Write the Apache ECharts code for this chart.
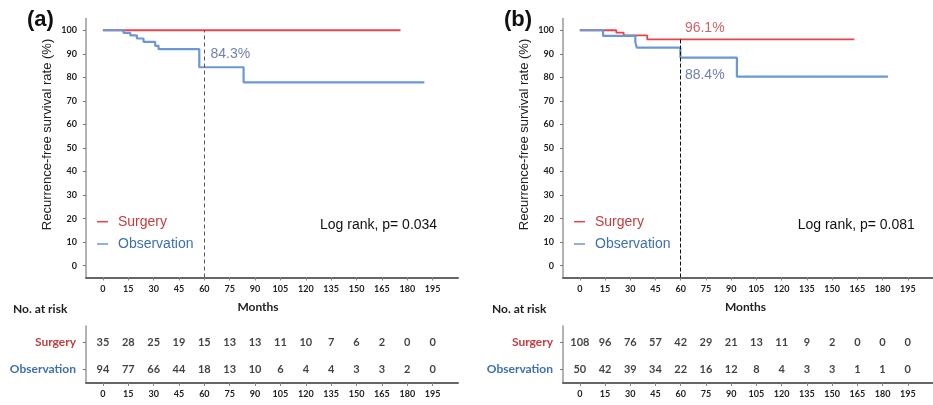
<!DOCTYPE html>
<html>
<head>
<meta charset="utf-8">
<script src="https://cdn.jsdelivr.net/npm/echarts@6/dist/echarts.min.js"></script>
<style>
  html, body { margin: 0; padding: 0; background: #fff; }
  #chart { width: 933px; height: 405px; }
</style>
</head>
<body>
<div id="chart"></div>
<script>
// Axis ticks
const monthTicks = [0, 15, 30, 45, 60, 75, 90, 105, 120, 135, 150, 165, 180, 195];
const rateTicks = [0, 10, 20, 30, 40, 50, 60, 70, 80, 90, 100];
const groupNames = ['Surgery', 'Observation'];
const yTitle = 'Recurrence-free survival rate (%)';

// Panel (a): Kaplan-Meier steps (months, survival %)
const aSurgeryTimes = [0, 176];
const aSurgerySurv = [100, 100];
const aObsTimes = [0, 12.2, 16.2, 20.1, 24.0, 30.9, 32.9, 57.0, 83.2, 190.1];
const aObsSurv = [100, 98.9, 97.8, 96.5, 95.1, 93.4, 92.0, 84.3, 77.9, 77.9];
const aLandmark = 60;
const aLandmarkObs = 84.3;
const aPValue = '0.034';
const aRiskSurgery = [35, 28, 25, 19, 15, 13, 13, 11, 10, 7, 6, 2, 0, 0];
const aRiskObs = [94, 77, 66, 44, 18, 13, 10, 6, 4, 4, 3, 3, 2, 0];

// Panel (b)
const bSurgeryTimes = [0, 21.7, 26.1, 40.1, 163.2];
const bSurgerySurv = [100, 99.0, 97.8, 96.1, 96.1];
const bObsTimes = [0, 13.8, 33.0, 33.9, 59.8, 93.4, 183.2];
const bObsSurv = [100, 97.6, 95.0, 92.6, 88.4, 80.3, 80.3];
const bLandmark = 60;
const bLandmarkSurgery = 96.1;
const bLandmarkObs = 88.4;
const bPValue = '0.081';
const bRiskSurgery = [108, 96, 76, 57, 42, 29, 21, 13, 11, 9, 2, 0, 0, 0];
const bRiskObs = [50, 42, 39, 34, 22, 16, 12, 8, 4, 3, 3, 1, 1, 0];

const RED = '#e8434a';
const BLUE = '#6b97d6';
const RED_TEXT = '#c43c40';
const BLUE_TEXT = '#3e70ad';
const PCT_BLUE = '#4d5f9e';
const TICK_FONT = 'Lato, "Liberation Sans", Arial, sans-serif';
const TEXT_FONT = '"Liberation Sans", Arial, sans-serif';

const zip = (xs, ys) => xs.map((x, i) => [x, ys[i]]);

const panels = [
  { left: 86, tag: '(a)', sTimes: aSurgeryTimes, sSurv: aSurgerySurv, oTimes: aObsTimes, oSurv: aObsSurv,
    landmark: aLandmark, landmarkTop: aSurgerySurv[0], dash: { color: '#555', type: [4, 3] },
    pct: [{ v: aLandmarkObs, color: PCT_BLUE, offset: [26, -13] }],
    p: aPValue, riskS: aRiskSurgery, riskO: aRiskObs, logX: 320, monthsX: 258, riskTitleX: 13 },
  { left: 563, tag: '(b)', sTimes: bSurgeryTimes, sSurv: bSurgerySurv, oTimes: bObsTimes, oSurv: bObsSurv,
    landmark: bLandmark, landmarkTop: bLandmarkSurgery, dash: { color: '#111', type: [4, 2] },
    pct: [{ v: bLandmarkSurgery, color: RED_TEXT, offset: [24, -11] },
          { v: bLandmarkObs, color: PCT_BLUE, offset: [24, 18] }],
    p: bPValue, riskS: bRiskSurgery, riskO: bRiskObs, logX: 797.7, monthsX: 745.5, riskTitleX: 492 }
];

const grid = [], xAxis = [], yAxis = [], series = [], graphic = [];
const MAIN_TOP = 18.5, MAIN_H = 259, RISK_TOP = 326, RISK_H = 57, PLOT_W = 372;

const axisLabelTick = {
  fontFamily: TICK_FONT, fontWeight: 'bold', fontSize: 9, color: '#222'
};

panels.forEach((pn, k) => {
  const gMain = k * 2, gRisk = k * 2 + 1;
  grid.push({ left: pn.left, top: MAIN_TOP, width: PLOT_W, height: MAIN_H });
  grid.push({ left: pn.left, top: RISK_TOP, width: PLOT_W, height: RISK_H });

  [gMain, gRisk].forEach(g => {
    xAxis.push({
      type: 'value', gridIndex: g, min: -10, max: 210,
      splitLine: { show: false },
      axisLine: { show: true, onZero: false, lineStyle: { color: '#666', width: 2 } },
      axisTick: { show: true, length: 3, customValues: monthTicks, lineStyle: { color: '#888' } },
      axisLabel: Object.assign({ margin: 7, customValues: monthTicks }, axisLabelTick)
    });
  });

  yAxis.push({
    type: 'value', gridIndex: gMain, min: -5, max: 105,
    splitLine: { show: false },
    axisLine: { show: true, onZero: false, lineStyle: { color: '#999', width: 1.5 } },
    axisTick: { show: true, length: 3, customValues: rateTicks, lineStyle: { color: '#777' } },
    axisLabel: Object.assign({ margin: 9, customValues: rateTicks }, axisLabelTick)
  });
  yAxis.push({
    type: 'value', gridIndex: gRisk, min: -0.5, max: 1.6,
    splitLine: { show: false },
    axisLine: { show: true, onZero: false, lineStyle: { color: '#999', width: 1.5 } },
    axisTick: { show: true, length: 3, customValues: [0, 1], lineStyle: { color: '#777' } },
    axisLabel: {
      margin: 10, customValues: [0, 1],
      formatter: v => (v === 1 ? '{s|' + groupNames[0] + '}' : '{o|' + groupNames[1] + '}'),
      rich: {
        s: { fontFamily: TICK_FONT, fontWeight: 'bold', fontSize: 12, color: RED_TEXT },
        o: { fontFamily: TICK_FONT, fontWeight: 'bold', fontSize: 12, color: BLUE_TEXT }
      }
    }
  });

  // Survival curves
  series.push({
    name: groupNames[0], type: 'line', step: 'end', xAxisIndex: gMain, yAxisIndex: gMain,
    data: zip(pn.sTimes, pn.sSurv), showSymbol: false, symbol: 'none',
    lineStyle: { color: RED, width: k === 0 ? 2.2 : 1.8 }, z: 3,
    markLine: {
      silent: true, symbol: 'none', label: { show: false },
      lineStyle: { color: pn.dash.color, type: pn.dash.type, width: 1 },
      data: [[{ coord: [pn.landmark, -5] }, { coord: [pn.landmark, pn.landmarkTop] }]]
    }
  });
  series.push({
    name: groupNames[1], type: 'line', step: 'end', xAxisIndex: gMain, yAxisIndex: gMain,
    data: zip(pn.oTimes, pn.oSurv), showSymbol: false, symbol: 'none',
    lineStyle: { color: BLUE, width: 2.2 }, z: 4
  });

  // Landmark percentages
  pn.pct.forEach(pc => {
    series.push({
      type: 'scatter', xAxisIndex: gMain, yAxisIndex: gMain, symbolSize: 0, silent: true,
      data: [[pn.landmark, pc.v]],
      label: {
        show: true, position: 'inside', offset: pc.offset,
        formatter: p => p.value[1].toFixed(1) + '%',
        fontFamily: TEXT_FONT, fontSize: 14, color: pc.color
      }
    });
  });

  // Numbers at risk
  const riskData = [];
  monthTicks.forEach((m, i) => {
    riskData.push([m, 1, pn.riskS[i]]);
    riskData.push([m, 0, pn.riskO[i]]);
  });
  series.push({
    type: 'scatter', xAxisIndex: gRisk, yAxisIndex: gRisk, symbolSize: 0, silent: true,
    data: riskData,
    label: {
      show: true, position: 'inside', formatter: p => String(p.value[2]),
      fontFamily: TICK_FONT, fontWeight: 'bold', fontSize: 11, color: '#111'
    }
  });

  // Panel tag, axis title, legend, log-rank text, headings
  const off = pn.left - 86;
  graphic.push(
    { type: 'text', left: 27 + off, top: 9, style: { text: pn.tag, fontFamily: TEXT_FONT, fontWeight: 'bold', fontSize: 22, fill: '#111' } },
    { type: 'text', x: 47 + off, y: 134.5, rotation: Math.PI / 2, style: { text: yTitle, fontFamily: TEXT_FONT, fontSize: 13, fill: '#222', align: 'center', verticalAlign: 'middle' } },
    { type: 'line', shape: { x1: 97 + off, y1: 221.7, x2: 108 + off, y2: 221.7 }, style: { stroke: RED, lineWidth: 1.5 } },
    { type: 'line', shape: { x1: 97 + off, y1: 244, x2: 108 + off, y2: 244 }, style: { stroke: BLUE, lineWidth: 1.5 } },
    { type: 'text', x: 118 + off, y: 221.7, style: { text: groupNames[0], fontFamily: TEXT_FONT, fontSize: 14, fill: RED_TEXT, verticalAlign: 'middle' } },
    { type: 'text', x: 118 + off, y: 244, style: { text: groupNames[1], fontFamily: TEXT_FONT, fontSize: 14, fill: BLUE_TEXT, verticalAlign: 'middle' } },
    { type: 'text', x: pn.logX, y: 225, style: { text: 'Log rank, p= ' + pn.p, fontFamily: TEXT_FONT, fontSize: 14, fill: '#111', verticalAlign: 'middle' } },
    { type: 'text', x: pn.monthsX, y: 307, style: { text: 'Months', fontFamily: TICK_FONT, fontWeight: 'bold', fontSize: 12, fill: '#222', align: 'center', verticalAlign: 'middle' } },
    { type: 'text', x: pn.riskTitleX, y: 309, style: { text: 'No. at risk', fontFamily: TICK_FONT, fontWeight: 'bold', fontSize: 12, fill: '#222', verticalAlign: 'middle' } }
  );
});

const chart = echarts.init(document.getElementById('chart'), null, { renderer: 'canvas' });
chart.setOption({
  animation: false,
  backgroundColor: '#fff',
  grid, xAxis, yAxis, series, graphic
});
</script>
</body>
</html>
